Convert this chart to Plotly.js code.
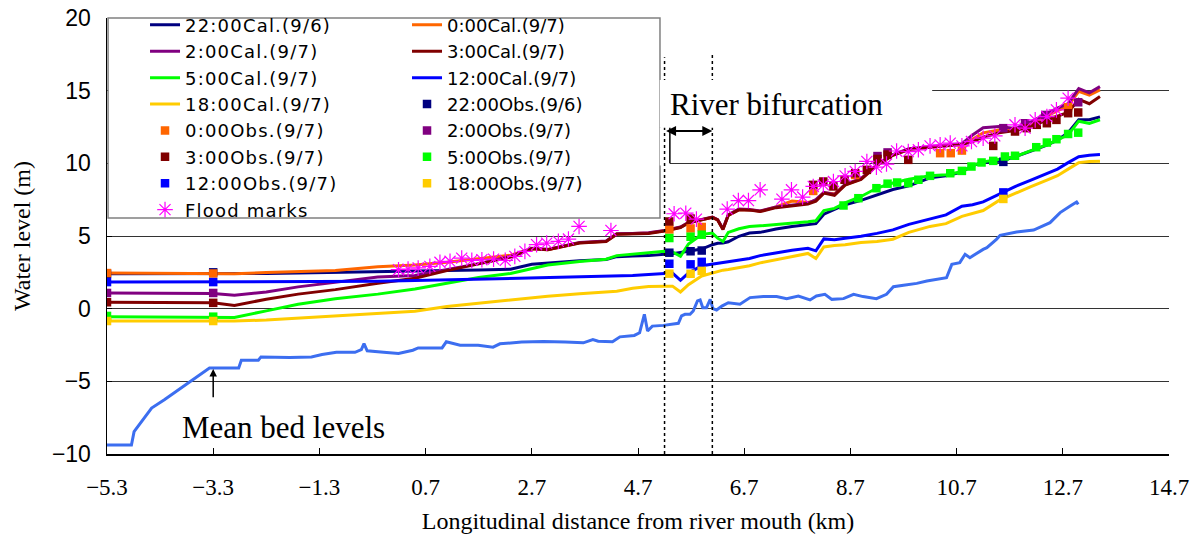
<!DOCTYPE html>
<html>
<head>
<meta charset="utf-8">
<script src="https://cdn.plot.ly/plotly-3.0.1.min.js"></script>
<style>html,body{margin:0;padding:0;background:#fff;}#chart{width:1199px;height:534px;}
.legendtext{letter-spacing:1.2px;}</style>
</head>
<body>
<div id="chart"></div>
<script>
// ---- data (km, m) ----
const xCal = [-5.3,-3.3,-2.9,-2.3,-1.7,-1.0,-0.2,0.5,1.1,1.7,2.3,2.7,3.0,3.6,4.1,4.3,4.6,4.9,5.2,5.35,5.5,5.65,5.9,6.1,6.2,6.3,6.4,6.6,6.8,7.0,7.3,7.6,7.9,8.05,8.2,8.4,8.6,8.9,9.2,9.5,9.8,10.2,10.5,10.8,11.0,11.2,11.5,11.8,12.1,12.4,12.6,12.8,13.0,13.2,13.4];
const cal2200 = [2.40,2.40,2.38,2.42,2.45,2.48,2.55,2.58,2.62,2.66,2.72,3.05,3.15,3.30,3.38,3.58,3.62,3.65,3.75,3.78,3.87,3.95,4.10,4.40,4.50,4.52,4.60,4.98,5.20,5.25,5.48,5.65,5.75,5.85,6.50,6.85,7.15,7.45,7.85,8.20,8.45,9.00,9.15,9.40,9.85,10.05,10.15,10.45,10.85,11.25,11.60,12.10,13.00,13.00,13.20];
const cal0000 = [2.45,2.42,2.40,2.48,2.55,2.63,2.88,3.00,3.19,3.45,3.68,4.12,4.06,4.53,4.63,5.13,5.16,5.20,5.36,5.46,5.60,5.91,6.13,6.28,6.10,5.47,6.44,6.82,6.80,6.70,7.00,7.40,7.30,7.45,7.97,7.90,8.52,8.92,9.87,10.57,10.97,11.12,11.24,11.32,11.65,12.10,12.30,12.35,12.75,13.25,13.60,13.95,14.95,14.70,15.05];
const cal0200 = [1.08,1.05,0.92,1.15,1.50,1.82,2.18,2.28,2.68,3.10,3.60,4.15,4.08,4.55,4.65,5.15,5.18,5.22,5.38,5.48,5.62,5.93,6.15,6.30,6.12,5.50,6.46,6.85,6.82,6.72,7.00,7.10,7.25,7.50,8.00,7.85,8.55,8.95,9.90,10.60,11.00,11.15,11.27,11.35,11.95,12.45,12.53,12.40,12.85,13.40,13.80,14.10,15.15,14.85,15.28];
const cal0300 = [0.44,0.40,0.22,0.65,1.00,1.31,1.75,2.10,2.62,3.08,3.55,4.12,4.05,4.52,4.62,5.12,5.15,5.18,5.35,5.45,5.58,5.90,6.12,6.28,6.10,5.45,6.42,6.80,6.78,6.68,6.95,7.05,7.20,7.40,7.95,7.80,8.50,8.90,9.85,10.55,10.95,11.10,11.22,11.30,11.50,11.80,12.10,12.25,12.55,13.00,13.25,13.50,14.40,14.10,14.60];
const cal0500 = [-0.55,-0.60,-0.60,-0.15,0.30,0.68,1.00,1.35,1.75,2.15,2.42,2.75,3.00,3.25,3.40,3.65,3.75,3.85,3.95,3.90,3.60,4.45,5.10,5.20,4.85,4.62,5.25,5.50,5.65,5.70,5.78,5.88,5.98,6.05,6.75,6.90,7.28,7.72,8.30,8.65,8.90,9.14,9.22,9.42,9.85,10.10,10.25,10.45,10.88,11.27,11.62,11.96,12.90,12.75,13.00];
const cal1200 = [1.83,1.83,1.83,1.84,1.85,1.86,1.88,1.93,1.98,2.03,2.10,2.13,2.15,2.18,2.22,2.24,2.28,2.35,2.40,2.45,1.95,2.45,2.95,3.05,3.10,3.15,3.22,3.35,3.45,3.65,3.85,4.02,4.15,3.98,4.80,4.75,4.85,4.98,5.18,5.42,5.80,6.16,6.45,7.05,7.15,7.35,7.90,8.40,8.85,9.30,9.60,10.05,10.45,10.55,10.60];
const cal1800 = [-0.85,-0.85,-0.85,-0.78,-0.65,-0.50,-0.32,-0.18,0.15,0.38,0.60,0.75,0.85,1.03,1.15,1.20,1.40,1.52,1.55,1.55,1.15,1.65,2.25,2.45,2.58,2.65,2.70,2.80,2.95,3.15,3.35,3.60,3.80,3.45,4.25,4.35,4.40,4.55,4.62,4.78,5.25,5.66,5.85,6.35,6.55,6.75,7.45,7.95,8.40,8.85,9.15,9.60,10.05,10.12,10.15];

const bedX = [-5.3,-4.84,-4.79,-4.67,-4.46,-4.22,-3.37,-2.82,-2.77,-2.45,-2.40,-1.86,-1.45,-1.25,-0.98,-0.63,-0.51,-0.46,-0.40,-0.09,0.19,0.46,0.56,1.01,1.09,1.35,1.69,1.97,2.10,2.51,2.92,3.33,3.67,3.85,3.95,4.22,4.36,4.63,4.73,4.82,4.88,4.97,5.18,5.46,5.52,5.585,5.68,5.74,5.82,5.87,5.92,5.99,6.06,6.11,6.18,6.28,6.40,6.62,6.81,7.06,7.31,7.50,7.72,7.94,8.06,8.22,8.35,8.57,8.76,8.94,9.19,9.38,9.51,9.70,9.95,10.14,10.42,10.51,10.61,10.76,10.86,10.95,11.20,11.27,11.45,11.52,11.83,12.15,12.46,12.65,12.84,12.96,12.99];
const bedY = [-9.38,-9.38,-8.46,-7.88,-6.84,-6.27,-4.08,-4.08,-3.55,-3.55,-3.32,-3.36,-3.32,-3.16,-3.0,-3.0,-2.81,-2.4,-2.9,-3.0,-3.09,-2.86,-2.70,-2.70,-2.28,-2.51,-2.51,-2.65,-2.42,-2.30,-2.26,-2.30,-2.35,-2.12,-2.24,-2.28,-1.94,-1.84,-1.66,-0.39,-1.54,-1.2,-1.15,-1.01,-0.50,-0.39,-0.39,-0.16,0.53,0.60,0.07,0.07,0.64,0.0,-0.09,0.18,0.41,0.30,0.76,0.83,0.83,0.69,0.87,0.60,0.87,0.99,0.64,0.69,0.99,0.83,0.69,0.99,1.51,1.61,1.74,1.90,2.06,2.13,3.05,3.17,3.74,3.51,4.08,4.20,4.77,5.05,5.28,5.41,5.92,6.61,7.06,7.34,7.18];

const obs2200X = [-5.3,-3.3,5.29,5.69,5.90,11.58];
const obs2200Y = [2.40,2.50,3.85,3.95,4.00,10.10];
const obs0000X = [-5.3,-3.3,5.29,5.69,5.90,8.0,8.79,10.39,10.59,10.80,12.80];
const obs0000Y = [2.45,2.42,5.45,5.52,5.62,8.10,9.20,10.70,10.70,10.88,13.86];
const obs0200X = [-5.3,-3.3,9.21,9.40,11.58,11.99,12.37,12.99];
const obs0200Y = [1.08,1.08,10.50,10.75,12.42,12.76,13.33,14.20];
const obs0300X = [-5.3,-3.3,5.29,5.69,8.0,8.19,8.38,8.59,8.79,9.01,9.21,9.40,9.79,11.39,11.80,12.02,12.21,12.40,12.58,12.80,12.99];
const obs0300Y = [0.44,0.40,6.00,6.20,8.52,8.75,8.41,8.87,9.32,9.55,10.30,10.60,10.24,11.20,12.19,12.42,12.65,12.76,12.99,13.45,13.50];
const obs0500X = [-5.3,-3.3,5.29,5.69,5.90,8.57,8.85,9.19,9.40,9.58,9.79,9.98,10.20,10.58,10.80,10.98,11.17,11.39,11.61,11.80,12.20,12.40,12.58,12.80,12.99];
const obs0500Y = [-0.50,-0.55,4.86,4.95,5.09,7.10,7.60,8.29,8.60,8.68,8.64,8.87,9.14,9.32,9.48,9.78,10.06,10.17,10.47,10.52,11.11,11.43,11.66,12.02,12.11];
const obs1200X = [-5.3,-3.3,5.29,5.69,5.90,11.58];
const obs1200Y = [1.83,1.83,3.09,3.05,3.22,8.00];
const obs1800X = [-5.3,-3.3,5.29,5.69,5.90,11.58];
const obs1800Y = [-0.85,-0.85,2.41,2.40,2.60,7.55];

const floodX = [0.19,0.37,0.56,0.78,0.97,1.16,1.38,1.57,1.76,1.98,2.20,2.38,2.57,2.79,2.98,3.20,3.39,3.59,4.19,5.38,5.60,5.80,6.38,6.59,6.78,7.00,7.41,7.59,7.80,8.00,8.19,8.38,8.60,8.79,9.01,9.19,9.38,9.57,9.79,9.98,10.20,10.39,10.58,10.80,10.98,11.20,11.42,11.80,11.99,12.18,12.40,12.58,12.80];
const floodY = [2.68,2.72,2.80,2.91,3.19,3.26,3.48,3.32,3.37,3.41,3.32,3.60,3.94,4.40,4.51,4.63,4.79,5.66,5.38,6.53,6.57,6.16,6.85,7.44,7.44,8.18,7.54,8.18,7.68,8.41,8.52,8.75,9.14,9.44,10.13,9.74,9.95,10.85,10.81,10.93,11.20,11.27,11.39,11.20,11.50,11.73,11.89,12.65,12.42,12.99,13.22,13.68,14.48];

const xTickStart = -5.3, xTickStep = 2;
const bifurcationX = [5.2, 6.1];

// ---- traces ----
const legFont = {family: 'DejaVu Sans', size: 18, color: '#000'};
function calLine(name, y, color, leg, rank) {
  return {x: xCal, y: y, name: name, type: 'scatter', mode: 'lines',
    line: {color: color, width: 3}, legend: leg, legendrank: rank};
}
function obsPts(name, x, y, color, leg, rank) {
  return {x: x, y: y, name: name, type: 'scatter', mode: 'markers',
    marker: {symbol: 'square', size: 8.5, color: color}, legend: leg, legendrank: rank};
}
const traces = [
  {x: bedX, y: bedY, type: 'scatter', mode: 'lines', line: {color: '#3C6EF0', width: 3}, showlegend: false, name: 'Mean bed levels'},
  calLine('22:00Cal.(9/6)', cal2200, '#000080', 'legend', 1),
  calLine('0:00Cal.(9/7)', cal0000, '#FF6600', 'legend2', 1),
  calLine('2:00Cal.(9/7)', cal0200, '#800080', 'legend', 2),
  calLine('3:00Cal.(9/7)', cal0300, '#800000', 'legend2', 2),
  calLine('5:00Cal.(9/7)', cal0500, '#00FF00', 'legend', 3),
  calLine('12:00Cal.(9/7)', cal1200, '#0000FF', 'legend2', 3),
  calLine('18:00Cal.(9/7)', cal1800, '#FFCC00', 'legend', 4),
  obsPts('22:00Obs.(9/6)', obs2200X, obs2200Y, '#000080', 'legend2', 4),
  obsPts('0:00Obs.(9/7)', obs0000X, obs0000Y, '#FF6600', 'legend', 5),
  obsPts('2:00Obs.(9/7)', obs0200X, obs0200Y, '#800080', 'legend2', 5),
  obsPts('3:00Obs.(9/7)', obs0300X, obs0300Y, '#800000', 'legend', 6),
  obsPts('5:00Obs.(9/7)', obs0500X, obs0500Y, '#00FF00', 'legend2', 6),
  obsPts('12:00Obs.(9/7)', obs1200X, obs1200Y, '#0000FF', 'legend', 7),
  obsPts('18:00Obs.(9/7)', obs1800X, obs1800Y, '#FFCC00', 'legend2', 7),
  {x: floodX, y: floodY, name: 'Flood marks', type: 'scatter', mode: 'markers',
    marker: {symbol: 'asterisk-open', size: 13, color: '#FF00FF', line: {color: '#FF00FF', width: 1.2}},
    legend: 'legend', legendrank: 8}
];

const serif = 'Liberation Serif, Times New Roman, serif';
const layout = {
  width: 1199, height: 534,
  margin: {l: 107, r: 30, t: 18, b: 80, autoexpand: false},
  paper_bgcolor: '#fff', plot_bgcolor: '#fff',
  showlegend: true,
  xaxis: {
    range: [-5.3, 14.7], tickmode: 'linear', tick0: xTickStart, dtick: xTickStep,
    ticks: 'inside', ticklen: 6, tickcolor: '#000', tickwidth: 1,
    showline: true, linecolor: '#000', linewidth: 1.5, showgrid: false, zeroline: false,
    tickfont: {family: serif, size: 23, color: '#000'}, ticklabelstandoff: 12,
    title: {text: 'Longitudinal distance from river mouth (km)', font: {family: serif, size: 24, color: '#000'}}
  },
  yaxis: {
    range: [-10, 20], tickmode: 'linear', tick0: -10, dtick: 5,
    ticks: 'inside', ticklen: 5, tickcolor: '#000',
    showline: true, linecolor: '#000', linewidth: 1.5,
    showgrid: true, gridcolor: '#333', gridwidth: 1, zeroline: false,
    tickfont: {family: 'Liberation Sans, Arial, sans-serif', size: 23, color: '#000'}, ticklabelstandoff: 10,
    automargin: true,
    title: {text: 'Water level (m)', standoff: 14, font: {family: serif, size: 24, color: '#000'}}
  },
  legend: {x: 0.0358, y: 1.026, xanchor: 'left', yanchor: 'top', bgcolor: 'rgba(0,0,0,0)', borderwidth: 0, font: legFont, tracegroupgap: 0, itemwidth: 30},
  legend2: {x: 0.2825, y: 1.026, xanchor: 'left', yanchor: 'top', bgcolor: 'rgba(0,0,0,0)', borderwidth: 0, font: legFont, tracegroupgap: 0, itemwidth: 30},
  shapes: [
    {type: 'rect', xref: 'paper', yref: 'paper', x0: 0.001, x1: 0.5207, y0: 0.5413, y1: 1.0, fillcolor: '#fff', line: {color: '#808080', width: 1.5}, layer: 'above'},
    {type: 'rect', xref: 'x', yref: 'y', x0: 5.11, x1: 5.3, y0: 9.85, y1: 12.44, fillcolor: '#fff', line: {width: 0}, layer: 'above'},
    {type: 'line', xref: 'x', yref: 'y', x0: bifurcationX[0], x1: bifurcationX[0], y0: -10, y1: 17.3, line: {color: '#000', width: 1.5, dash: 'dot'}, layer: 'above'},
    {type: 'line', xref: 'x', yref: 'y', x0: bifurcationX[1], x1: bifurcationX[1], y0: -10, y1: 17.5, line: {color: '#000', width: 1.5, dash: 'dot'}, layer: 'above'},
    {type: 'rect', xref: 'x', yref: 'y', x0: 5.11, x1: 10.24, y0: 12.44, y1: 15.74, fillcolor: '#fff', line: {width: 0}, layer: 'above'},
    {type: 'line', xref: 'x', yref: 'y', x0: 5.3, x1: 5.3, y0: 10, y1: 12.44, line: {color: '#000', width: 1.5}, layer: 'above'}
  ],
  annotations: [
    {x: 7.30, y: 14.02, xref: 'x', yref: 'y', text: 'River bifurcation', showarrow: false, font: {family: serif, size: 31, color: '#000'}},
    {x: bifurcationX[1], y: 12.23, ax: bifurcationX[0], ay: 12.23, xref: 'x', yref: 'y', axref: 'x', ayref: 'y', text: '', showarrow: true, arrowhead: 2, arrowside: 'end+start', arrowsize: 1, arrowwidth: 2, arrowcolor: '#000'},
    {x: -1.97, y: -8.18, xref: 'x', yref: 'y', text: 'Mean bed levels', showarrow: false, font: {family: serif, size: 31, color: '#000'}},
    {x: -3.3, y: -4.15, ax: -3.3, ay: -6.2, xref: 'x', yref: 'y', axref: 'x', ayref: 'y', text: '', showarrow: true, arrowhead: 2, arrowsize: 1, arrowwidth: 1.5, arrowcolor: '#000'}
  ]
};

Plotly.newPlot('chart', traces, layout, {displayModeBar: false, staticPlot: true});
</script>
</body>
</html>
